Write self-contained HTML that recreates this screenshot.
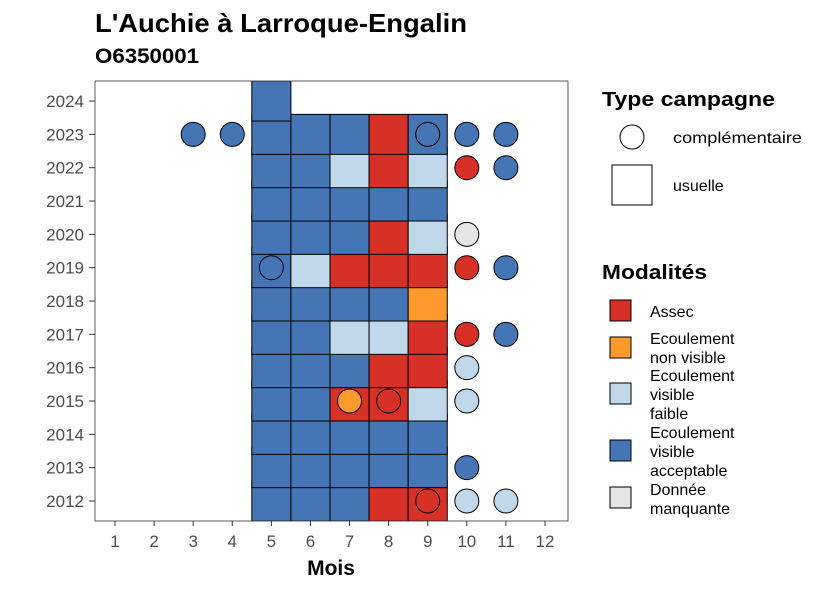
<!DOCTYPE html>
<html><head><meta charset="utf-8"><style>
body{margin:0;background:#fff;}
svg{font-family:"Liberation Sans",sans-serif;}
</style></head><body>
<svg id="chart" width="826" height="590" viewBox="0 0 826 590">
<text x="95" y="32" font-size="26" font-weight="bold" fill="#000" textLength="372" lengthAdjust="spacingAndGlyphs">L'Auchie à Larroque-Engalin</text>
<text x="95" y="63" font-size="21" font-weight="bold" fill="#000" textLength="104" lengthAdjust="spacingAndGlyphs">O6350001</text>
<defs><clipPath id="pc"><rect x="95" y="81" width="473" height="440"/></clipPath></defs>
<g id="tiles" clip-path="url(#pc)"></g>
<g id="points"></g>
<rect x="95" y="81" width="473" height="440" fill="none" stroke="#333" stroke-width="0.8"/>
<g id="axes"></g>
<text x="331" y="575" font-size="21" font-weight="bold" text-anchor="middle">Mois</text>
<g>
<text x="602" y="106" font-size="20" font-weight="bold" textLength="173" lengthAdjust="spacingAndGlyphs">Type campagne</text>
<circle cx="632" cy="137" r="12" fill="#fff" stroke="#000"/>
<text x="673" y="143" font-size="16" textLength="129" lengthAdjust="spacingAndGlyphs">complémentaire</text>
<rect x="612" y="165" width="40" height="40" fill="#fff" stroke="#000"/>
<text x="673" y="191" font-size="16">usuelle</text>
</g>
<g font-size="16">
<text x="602" y="279" font-size="20" font-weight="bold" textLength="105" lengthAdjust="spacingAndGlyphs">Modalités</text>
<rect x="610" y="300" width="21" height="21" fill="#d73027" stroke="#000"/>
<text x="650" y="317">Assec</text>
<rect x="610" y="337" width="21" height="21" fill="#fd9a2e" stroke="#000"/>
<text x="650" y="344"><tspan x="650">Ecoulement</tspan><tspan x="650" dy="19">non visible</tspan></text>
<rect x="610" y="383" width="21" height="21" fill="#c0d8ea" stroke="#000"/>
<text x="650" y="381"><tspan x="650">Ecoulement</tspan><tspan x="650" dy="19">visible</tspan><tspan x="650" dy="19">faible</tspan></text>
<rect x="610" y="440" width="21" height="21" fill="#4575b4" stroke="#000"/>
<text x="650" y="438"><tspan x="650">Ecoulement</tspan><tspan x="650" dy="19">visible</tspan><tspan x="650" dy="19">acceptable</tspan></text>
<rect x="610" y="487" width="21" height="21" fill="#e5e5e5" stroke="#000"/>
<text x="650" y="495"><tspan x="650">Donnée</tspan><tspan x="650" dy="19">manquante</tspan></text>
</g>
</svg>
<script>
const months=[1,2,3,4,5,6,7,8,9,10,11,12];
const years=[2012,2013,2014,2015,2016,2017,2018,2019,2020,2021,2022,2023,2024];
const tileYears=[2012,2012,2012,2012,2012,2013,2013,2013,2013,2013,2014,2014,2014,2014,2014,2015,2015,2015,2015,2015,2016,2016,2016,2016,2016,2017,2017,2017,2017,2017,2018,2018,2018,2018,2018,2019,2019,2019,2019,2019,2020,2020,2020,2020,2020,2021,2021,2021,2021,2021,2022,2022,2022,2022,2022,2023,2023,2023,2023,2023,2024];
const tileMonths=[5,6,7,8,9,5,6,7,8,9,5,6,7,8,9,5,6,7,8,9,5,6,7,8,9,5,6,7,8,9,5,6,7,8,9,5,6,7,8,9,5,6,7,8,9,5,6,7,8,9,5,6,7,8,9,5,6,7,8,9,5];
const tileCodes=["B","B","B","R","R","B","B","B","B","B","B","B","B","B","B","B","B","R","R","L","B","B","B","R","R","B","B","L","L","R","B","B","B","B","O","B","L","R","R","R","B","B","B","R","L","B","B","B","B","B","B","B","L","R","L","B","B","B","R","B","B"];
const ptYears=[2023,2023,2023,2023,2023,2022,2022,2020,2019,2019,2019,2017,2017,2016,2015,2015,2015,2013,2012,2012,2012];
const ptMonths=[3,4,9,10,11,10,11,10,5,10,11,10,11,10,7,8,10,10,9,10,11];
const ptCodes=["B","B","B","B","B","R","B","G","B","R","B","R","B","L","O","R","L","B","R","L","L"];
const colors={R:"#d73027",O:"#fd9a2e",L:"#c0d8ea",B:"#4575b4",G:"#e5e5e5"};
const NS="http://www.w3.org/2000/svg";
const xs=m=>115+(m-1)*39.09;
const ys=y=>501-(y-2012)*33.33;
const tg=document.getElementById('tiles'),pg=document.getElementById('points'),ag=document.getElementById('axes');
function mk(t,a,p){const e=document.createElementNS(NS,t);for(const k in a)e.setAttribute(k,a[k]);p.appendChild(e);return e;}
tileYears.forEach((y,i)=>{
 const r=mk('rect',{x:xs(tileMonths[i])-19.55,y:ys(y)-20,width:39.09,height:40,fill:colors[tileCodes[i]],stroke:'#000','stroke-width':1},tg);
 
 
});
ptYears.forEach((y,i)=>{
 const c=mk('circle',{cx:xs(ptMonths[i]),cy:ys(y),r:12,fill:colors[ptCodes[i]],stroke:'#000','stroke-width':1},pg);
 
 
});
months.forEach(m=>{
 mk('line',{x1:xs(m),x2:xs(m),y1:521,y2:526,stroke:'#333'},ag);
 const t=mk('text',{x:xs(m),y:547,'font-size':17,fill:'#4d4d4d','text-anchor':'middle'},ag);
 t.textContent=m;
 
 
});
years.forEach(y=>{
 mk('line',{x1:89,x2:95,y1:ys(y),y2:ys(y),stroke:'#333'},ag);
 const t=mk('text',{x:84,y:ys(y)+6,'font-size':17,fill:'#4d4d4d','text-anchor':'end'},ag);
 t.textContent=y;
 
 
});
</script>
</body></html>
